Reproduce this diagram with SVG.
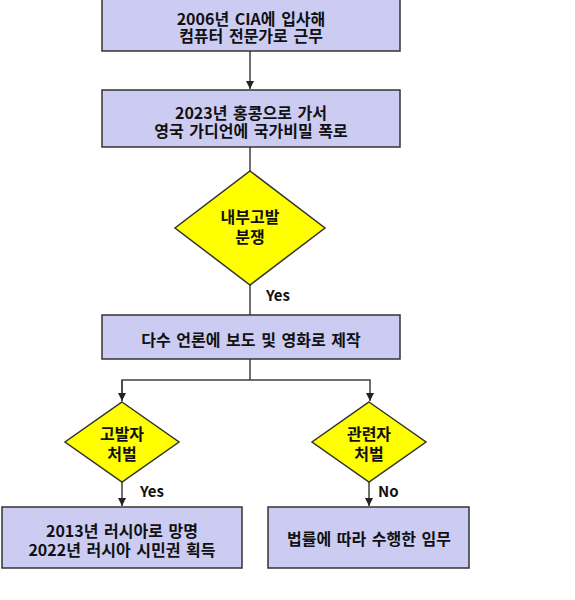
<svg xmlns="http://www.w3.org/2000/svg" width="575" height="600" viewBox="0 0 575 600">
<style>
.box{fill:#CCCCF2;stroke:#333;stroke-width:1.5}
.dia{fill:#FFFF00;stroke:#333;stroke-width:1.5}
.t{font-family:"Noto Sans CJK KR","Malgun Gothic",sans-serif;font-weight:bold;font-size:16px;fill:#111;text-anchor:middle;word-spacing:2px}
.lbl{font-family:"Noto Sans CJK KR",sans-serif;font-weight:bold;font-size:15px;fill:#111}
.c{fill:none;stroke:#404040;stroke-width:1.5}
</style>
<defs>
<marker id="ah" viewBox="0 0 10 10" refX="10" refY="5" markerWidth="8" markerHeight="8" markerUnits="userSpaceOnUse" orient="auto">
<path d="M0,0 L10,5 L0,10 Z" fill="#222"/>
</marker>
</defs>
<rect width="575" height="600" fill="#fff"/>
<g id="connectors">
<line class="c" x1="250" y1="51" x2="250" y2="89" marker-end="url(#ah)"/>
<line class="c" x1="250" y1="147" x2="250" y2="172"/>
<line class="c" x1="250" y1="285" x2="250" y2="315"/>
<line class="c" x1="250" y1="359" x2="250" y2="380"/>
<polyline class="c" points="122,401 122,380 370,380 370,401" marker-end="url(#ah)"/>
<line class="c" x1="122" y1="380" x2="122" y2="401" marker-end="url(#ah)"/>
<line class="c" x1="122" y1="482" x2="122" y2="506" marker-end="url(#ah)"/>
<line class="c" x1="369" y1="482" x2="369" y2="506" marker-end="url(#ah)"/>
<text class="lbl" x="266" y="301">Yes</text>
<text class="lbl" x="140" y="497">Yes</text>
<text class="lbl" x="378" y="497">No</text>
</g>
<g id="n1">
<rect class="box" x="102" y="-1" width="298" height="52"/>
<text class="t" x="251" y="25">2006년 CIA에 입사해</text>
<text class="t" x="251" y="42">컴퓨터 전문가로 근무</text>
</g>
<g id="n2">
<rect class="box" x="102" y="90" width="298" height="57"/>
<text class="t" x="251" y="119">2023년 홍콩으로 가서</text>
<text class="t" x="251" y="137">영국 가디언에 국가비밀 폭로</text>
</g>
<g id="n3">
<polygon class="dia" points="250,171 325,228 250,285 175,228"/>
<text class="t" x="250" y="223">내부고발</text>
<text class="t" x="250" y="243">분쟁</text>
</g>
<g id="n4">
<rect class="box" x="102" y="315" width="298" height="44"/>
<text class="t" x="251" y="346">다수 언론에 보도 및 영화로 제작</text>
</g>
<g id="n5">
<polygon class="dia" points="122,402 179,442 122,482 65,442"/>
<text class="t" x="122" y="440">고발자</text>
<text class="t" x="122" y="460">처벌</text>
</g>
<g id="n6">
<polygon class="dia" points="369,402 426,442 369,482 312,442"/>
<text class="t" x="369" y="440">관련자</text>
<text class="t" x="369" y="460">처벌</text>
</g>
<g id="n7">
<rect class="box" x="2" y="507" width="240" height="61"/>
<text class="t" x="122" y="537">2013년 러시아로 망명</text>
<text class="t" x="122" y="556">2022년 러시아 시민권 획득</text>
</g>
<g id="n8">
<rect class="box" x="268" y="507" width="201" height="61"/>
<text class="t" x="369" y="545">법률에 따라 수행한 임무</text>
</g>
</svg>
